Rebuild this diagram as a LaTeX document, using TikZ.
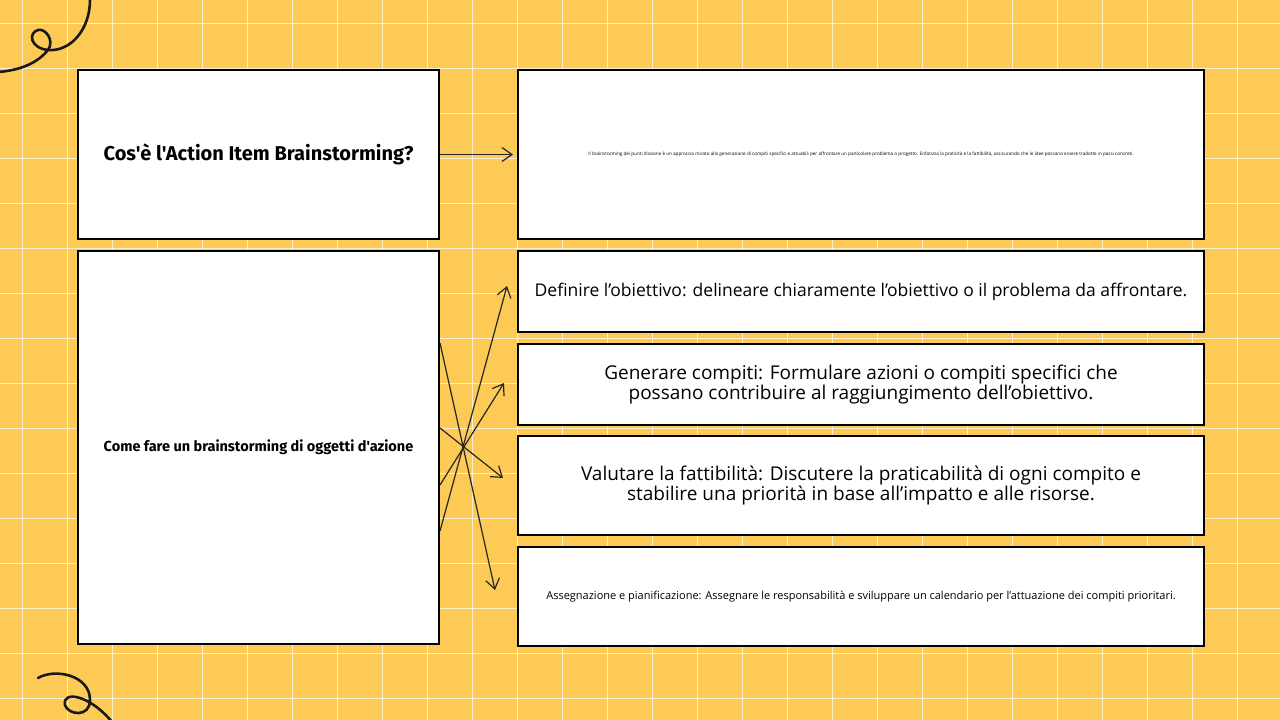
\documentclass[tikz,border=0pt]{standalone}
\usepackage{fontspec}
\setmainfont{Open Sans}
\newfontfamily\headfont{Fira Sans}
\usetikzlibrary{arrows.meta}
\definecolor{bg}{HTML}{FDCB55}
\begin{document}
\begin{tikzpicture}[x=1pt,y=-1pt,
  box/.style={draw=black,line width=2pt,fill=white,inner sep=0pt},
  conn/.style={draw=black!85,line width=1.2pt,-{Straight Barb[length=10pt,width=14pt]}},
  curl/.style={draw=black!90,line width=2.6pt,line cap=round}]
\useasboundingbox (0,0) rectangle (1280,720);
\fill[bg] (0,0) rectangle (1280,720);
\foreach \i in {0,...,28} \draw[white,opacity=0.7,line width=1pt] (22+45*\i,0) -- (22+45*\i,720);
\foreach \i in {0,...,16} \draw[white,opacity=0.7,line width=1pt] (0,23+45*\i) -- (1280,23+45*\i);
\draw[curl] (-2,72) .. controls (25,70) and (40,60) .. (48,50) .. controls (55,40) and (45,28) .. (38,30) .. controls (28,33) and (30,48) .. (48,50) .. controls (70,52) and (90,30) .. (90,0);
\draw[curl] (38,678) .. controls (55,668) and (90,675) .. (90,700) .. controls (90,718) and (68,715) .. (65,705) .. controls (62,690) and (90,695) .. (112,722);
\node[box,minimum width=361pt,minimum height=169pt] (q) at (258.5,154.5) {\headfont\bfseries\fontsize{20}{24}\selectfont Cos'è l'Action Item Brainstorming?};
\node[box,minimum width=361pt,minimum height=393pt] (h) at (258.5,447.5) {\headfont\bfseries\fontsize{14.5}{17}\selectfont Come fare un brainstorming di oggetti d'azione};
\node[box,minimum width=686pt,minimum height=169pt] (a) at (861,154.5) {\fontsize{4.6}{6}\selectfont Il brainstorming dei punti d'azione è un approccio mirato alla generazione di compiti specifici e attuabili per affrontare un particolare problema o progetto. Enfatizza la praticità e la fattibilità, assicurando che le idee possano essere tradotte in passi concreti.};
\node[box,minimum width=686pt,minimum height=81pt] (s1) at (861,291.5) {\fontsize{17.5}{22}\selectfont Definire l'obiettivo: delineare chiaramente l'obiettivo o il problema da affrontare.};
\node[box,minimum width=686pt,minimum height=81pt,align=center] (s2) at (861,384.5) {\fontsize{19}{25}\selectfont Generare compiti: Formulare azioni o compiti specifici che\\\fontsize{19}{25}\selectfont possano contribuire al raggiungimento dell'obiettivo.};
\node[box,minimum width=686pt,minimum height=99pt,align=center] (s3) at (861,485.5) {\fontsize{19}{25}\selectfont Valutare la fattibilità: Discutere la praticabilità di ogni compito e\\\fontsize{19}{25}\selectfont stabilire una priorità in base all'impatto e alle risorse.};
\node[box,minimum width=686pt,minimum height=99pt] (s4) at (861,596.5) {\fontsize{11}{14}\selectfont Assegnazione e pianificazione: Assegnare le responsabilità e sviluppare un calendario per l'attuazione dei compiti prioritari.};
\draw[conn] (q.east) -- ([xshift=-4pt]a.west);
\draw[conn] ([yshift=-83.5pt]h.east) -- ([xshift=-10pt,yshift=5.5pt]s1.west);
\draw[conn] ([yshift=-37.5pt]h.east) -- ([xshift=-13pt,yshift=1.5pt]s2.west);
\draw[conn] ([yshift=19.5pt]h.east) -- ([xshift=-14pt,yshift=7.5pt]s3.west);
\draw[conn] ([yshift=104.5pt]h.east) -- ([xshift=-22pt,yshift=6.5pt]s4.west);
\end{tikzpicture}
\end{document}
